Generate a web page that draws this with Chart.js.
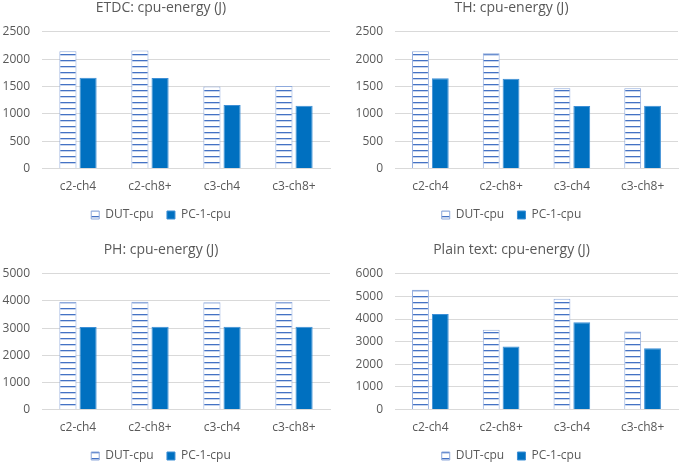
<!DOCTYPE html>
<html>
<head>
<meta charset="utf-8">
<script src="https://cdn.jsdelivr.net/npm/chart.js@4.4.1/dist/chart.umd.min.js"></script>
<style>
  html, body { margin: 0; padding: 0; background: #fff; }
  #wrap { position: relative; width: 685px; height: 463px; overflow: hidden; }
  .box { position: absolute; }
</style>
</head>
<body>
<div id="wrap">
  <div class="box" style="left:-8px; top:0px; width:345px; height:231px;"><canvas id="c1"></canvas></div>
  <div class="box" style="left:345px; top:0px; width:340px; height:231px;"><canvas id="c2"></canvas></div>
  <div class="box" style="left:-8px; top:242px; width:345px; height:230px;"><canvas id="c3"></canvas></div>
  <div class="box" style="left:345px; top:242px; width:340px; height:230px;"><canvas id="c4"></canvas></div>
</div>
<script>
const categories = ['c2-ch4', 'c2-ch8+', 'c3-ch4', 'c3-ch8+'];
const seriesNames = ['DUT-cpu', 'PC-1-cpu'];

const etdcDut = [2145, 2158, 1499, 1511];
const etdcPc = [1660, 1654, 1163, 1150];

const thDut = [2144, 2106, 1469, 1469];
const thPc = [1650, 1644, 1144, 1150];

const phDut = [3963, 3975, 3950, 3963];
const phPc = [3038, 3050, 3050, 3050];

const plainDut = [5300, 3528, 4898, 3454];
const plainPc = [4228, 2784, 3856, 2710];

const textColor = '#595959';
const fontFam = "'Open Sans', 'Liberation Sans', sans-serif";

// horizontal line hatch like the excel fill
function hatch(ctx) {
    const c = document.createElement('canvas');
    c.width = 6; c.height = 6;
    const g = c.getContext('2d');
    g.fillStyle = '#ffffff';
    g.fillRect(0, 0, 6, 6);
    g.fillStyle = '#4472C4';
    g.fillRect(0, 0, 6, 1.3);
    return ctx.createPattern(c, 'repeat');
}

// small legend padding keeps it close to the axis, spaces give the gap between items
function legendItems(chart) {
    const items = Chart.defaults.plugins.legend.labels.generateLabels(chart);
    items.forEach((it, i) => {
        if (i < items.length - 1) it.text += '   ';
    });
    return items;
}

function makeChart(id, title, dut, pc, max, step) {
    const ctx = document.getElementById(id).getContext('2d');
    return new Chart(ctx, {
        type: 'bar',
        data: {
            labels: categories,
            datasets: [{
                label: seriesNames[0],
                data: dut,
                backgroundColor: hatch(ctx),
                borderColor: '#8FAADC',
                borderWidth: 1
            }, {
                label: seriesNames[1],
                data: pc,
                backgroundColor: '#0070C0',
                borderColor: '#3D8FD6',
                borderWidth: 1
            }]
        },
        options: {
            responsive: true,
            maintainAspectRatio: false,
            animation: false,
            devicePixelRatio: 1,
            categoryPercentage: 0.56,
            barPercentage: 0.85,
            layout: { padding: { left: 0, right: 7, top: 0, bottom: 0 } },
            plugins: {
                title: {
                    display: true,
                    text: title,
                    color: textColor,
                    font: { family: fontFam, size: 14, weight: 'normal' },
                    padding: { top: 0, bottom: 15 }
                },
                legend: {
                    position: 'bottom',
                    labels: {
                        color: textColor,
                        font: { family: fontFam, size: 12 },
                        boxWidth: 8,
                        boxHeight: 8,
                        padding: 4,
                        generateLabels: legendItems
                    }
                },
                tooltip: { enabled: false }
            },
            scales: {
                x: {
                    grid: { display: false, drawTicks: false },
                    border: { color: '#d9d9d9' },
                    ticks: { color: textColor, font: { family: fontFam, size: 12 }, padding: 11 }
                },
                y: {
                    min: 0,
                    max: max,
                    afterFit: (s) => { s.width = 50; },
                    grid: { color: '#d9d9d9', drawTicks: false },
                    border: { display: false },
                    ticks: {
                        stepSize: step,
                        color: textColor,
                        font: { family: fontFam, size: 12 },
                        padding: 12,
                        callback: (v) => String(v)
                    }
                }
            }
        }
    });
}

makeChart('c1', 'ETDC: cpu-energy (J)', etdcDut, etdcPc, 2500, 500);
makeChart('c2', 'TH: cpu-energy (J)', thDut, thPc, 2500, 500);
makeChart('c3', 'PH: cpu-energy (J)', phDut, phPc, 5000, 1000);
makeChart('c4', 'Plain text: cpu-energy (J)', plainDut, plainPc, 6000, 1000);
</script>
</body>
</html>
